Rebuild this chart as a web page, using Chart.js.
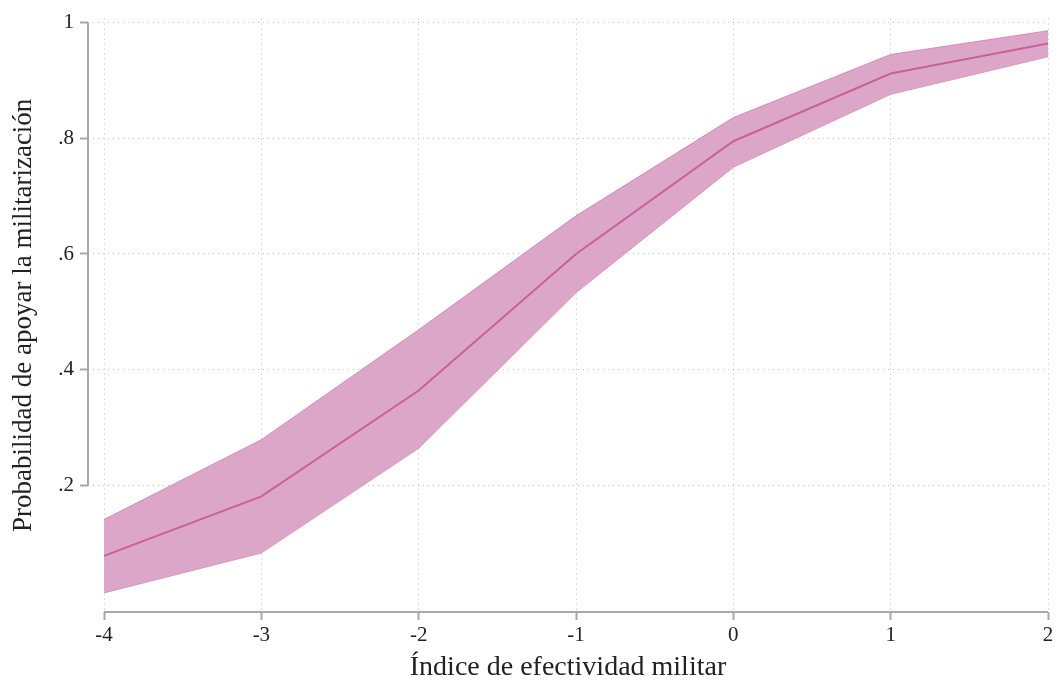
<!DOCTYPE html>
<html>
<head>
<meta charset="utf-8">
<script src="https://cdn.jsdelivr.net/npm/chart.js@4.4.1/dist/chart.umd.min.js"></script>
<style>
  html, body { margin: 0; padding: 0; background: #fff; }
  #wrap { width: 1058px; height: 684px; }
</style>
</head>
<body>
<div id="wrap"><canvas id="chart"></canvas></div>
<script>
// Datos
const xValues = [-4, -3, -2, -1, 0, 1, 2];
const prob = [0.078, 0.181, 0.364, 0.600, 0.795, 0.912, 0.964];
const lowerCI = [0.014, 0.083, 0.264, 0.533, 0.750, 0.876, 0.941];
const upperCI = [0.141, 0.279, 0.469, 0.666, 0.836, 0.945, 0.986];
const yTicks = [0.2, 0.4, 0.6, 0.8, 1];
const xTicks = [-4, -3, -2, -1, 0, 1, 2];

const serif = '"Liberation Serif", "DejaVu Serif", serif';
const toPts = arr => arr.map((v, i) => ({ x: xValues[i], y: v }));

// Líneas de eje sólo en el rango de las marcas (estilo Stata)
const axisLines = {
    id: 'axisLines',
    afterDraw(chart) {
        const { ctx, chartArea, scales } = chart;
        ctx.save();
        ctx.strokeStyle = '#a8a8a8';
        ctx.lineWidth = 2;
        ctx.beginPath();
        ctx.moveTo(chartArea.left, scales.y.getPixelForValue(yTicks[0]));
        ctx.lineTo(chartArea.left, scales.y.getPixelForValue(yTicks[yTicks.length - 1]));
        ctx.moveTo(scales.x.getPixelForValue(xTicks[0]), chartArea.bottom);
        ctx.lineTo(scales.x.getPixelForValue(xTicks[xTicks.length - 1]), chartArea.bottom);
        ctx.stroke();
        ctx.restore();
    }
};

const gridOpts = {
    color: '#bdbdbd',
    lineWidth: 1,
    tickColor: '#a8a8a8',
    tickBorderDash: [],
    tickWidth: 2,
    tickLength: 8
};

const ctx = document.getElementById('chart').getContext('2d');
new Chart(ctx, {
    type: 'line',
    data: {
        datasets: [
            {
                data: toPts(upperCI),
                borderColor: 'rgba(205,110,165,0.7)',
                borderWidth: 1,
                backgroundColor: 'rgba(214,150,190,0.85)',
                pointRadius: 0,
                fill: '+1',
                order: 2
            },
            {
                data: toPts(lowerCI),
                borderColor: 'rgba(205,110,165,0.7)',
                borderWidth: 1,
                pointRadius: 0,
                fill: false,
                order: 2
            },
            {
                data: toPts(prob),
                borderColor: '#c8609a',
                borderWidth: 2,
                pointRadius: 0,
                fill: false,
                order: 1
            }
        ]
    },
    options: {
        responsive: true,
        maintainAspectRatio: false,
        animation: false,
        layout: { padding: { top: 0, right: 10, left: 8, bottom: 0 } },
        plugins: {
            legend: { display: false },
            tooltip: { enabled: false }
        },
        scales: {
            x: {
                type: 'linear',
                min: -4.102,
                max: 2,
                afterBuildTicks: s => { s.ticks = xTicks.map(v => ({ value: v })); },
                afterFit: s => { s.height = 72; },
                border: { display: false, dash: [1, 4] },
                grid: gridOpts,
                ticks: {
                    color: '#222',
                    font: { family: serif, size: 21 },
                    padding: 3,
                    maxRotation: 0
                },
                title: {
                    display: true,
                    text: 'Índice de efectividad militar',
                    color: '#222',
                    font: { family: serif, size: 28 },
                    padding: { top: 0, bottom: 0 }
                }
            },
            y: {
                type: 'linear',
                min: -0.019,
                max: 1.007,
                afterBuildTicks: s => { s.ticks = yTicks.map(v => ({ value: v })); },
                afterFit: s => { s.width = 80; },
                border: { display: false, dash: [1, 4] },
                grid: gridOpts,
                ticks: {
                    color: '#222',
                    font: { family: serif, size: 21 },
                    padding: 6,
                    callback: v => v === 1 ? '1' : String(v.toFixed(1)).replace(/^0/, '')
                },
                title: {
                    display: true,
                    text: 'Probabilidad de apoyar la militarización',
                    color: '#222',
                    font: { family: serif, size: 27 },
                    padding: { top: 0, bottom: 4 }
                }
            }
        }
    },
    plugins: [axisLines]
});
</script>
</body>
</html>
